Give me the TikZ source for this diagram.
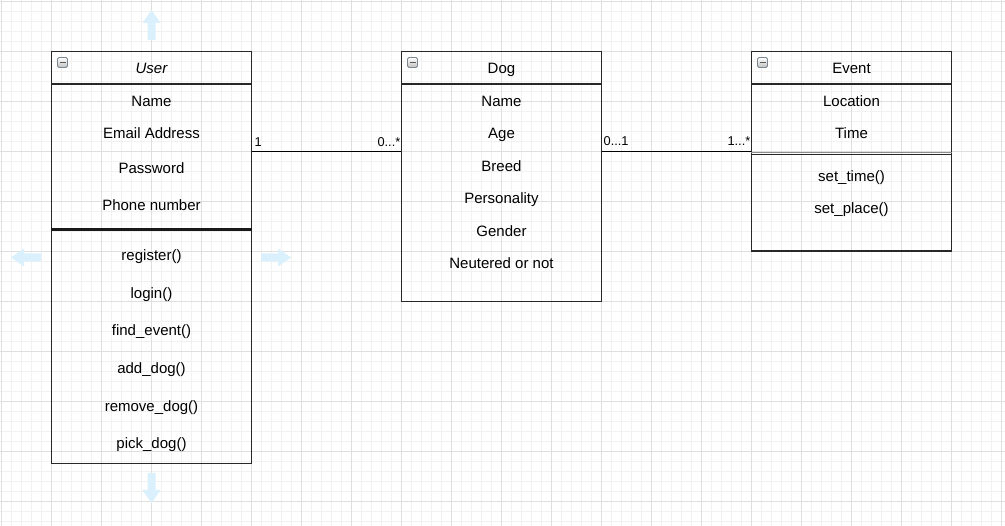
\documentclass[tikz,border=0pt]{standalone}
\usepackage{fontspec}
\setmainfont{Liberation Sans}
\definecolor{minorgrid}{RGB}{241,241,241}
\definecolor{majorgrid}{RGB}{223,223,223}
\definecolor{hintblue}{RGB}{218,240,252}
\definecolor{icongray}{RGB}{125,135,145}
\definecolor{boxline}{RGB}{40,40,40}
\tikzset{
  umlbox/.style={draw=boxline, line width=1.2pt, inner sep=0pt, minimum width=200pt},
  sepline/.style={draw=boxline, line width=1.1pt},
  thicksep/.style={draw=black!90, line width=2.2pt},
  conn/.style={draw=black, line width=1.2pt},
  txt/.style={anchor=base, inner sep=0pt, font=\fontsize{15}{18}\selectfont},
  lbl/.style={inner sep=0pt, font=\fontsize{12.8}{15}\selectfont},
  iconbox/.style={draw=icongray, line width=0.8pt, rounded corners=1.5pt, top color=white, bottom color=black!25, minimum size=10pt, inner sep=0pt,
    path picture={\draw[line width=1.6pt, draw=black!65] ([xshift=2pt]path picture bounding box.west) -- ([xshift=-2pt]path picture bounding box.east);}},
  hintarrow/.pic={\fill[hintblue] (0,-4) -- (17,-4) -- (17,-9) -- (30,0) -- (17,9) -- (17,4) -- (0,4) -- cycle;}
}
\begin{document}
\begin{tikzpicture}[x=1pt,y=-1pt]
\useasboundingbox (0,0) rectangle (1005,526);
\fill[white] (0,0) rectangle (1005,526);
% grid
\foreach \i in {0,...,100} \draw[minorgrid, line width=1pt] (1.5+10*\i,0) -- (1.5+10*\i,526);
\foreach \j in {0,...,52} \draw[minorgrid, line width=1pt] (0,1.5+10*\j) -- (1005,1.5+10*\j);
\foreach \i in {0,...,20} \draw[majorgrid, line width=1pt] (1.5+50*\i,0) -- (1.5+50*\i,526);
\foreach \j in {0,...,10} \draw[majorgrid, line width=1pt] (0,1.5+50*\j) -- (1005,1.5+50*\j);

% hint arrows around User
\pic[rotate=90] at (151.5,40) {hintarrow};
\pic[rotate=-90] at (151.5,473) {hintarrow};
\pic[rotate=180] at (41,257.5) {hintarrow};
\pic at (261,257.5) {hintarrow};

% boxes
\node[umlbox, minimum height=412pt] (user) at (151.5,257.5) {};
\node[umlbox, minimum height=250pt] (dog) at (501.5,176.5) {};
\node[umlbox, minimum height=199.5pt] (event) at (851.5,151.25) {};

% separators
\draw[sepline] (user.west |- 0,84) -- (user.east |- 0,84);
\draw[thicksep] (user.west |- 0,229.5) -- (user.east |- 0,229.5);
\draw[sepline] (dog.west |- 0,84) -- (dog.east |- 0,84);
\draw[sepline] (event.west |- 0,84) -- (event.east |- 0,84);
\draw[draw=black!45, line width=1.2pt] (event.west |- 0,152.9) -- (event.east |- 0,152.9);
\draw[sepline] (event.west |- 0,154.1) -- (event.east |- 0,154.1);

% icons
\node[iconbox] (uicon) at (62.5,62.5) {};
\node[iconbox] (dicon) at (412.5,62.5) {};
\node[iconbox] (eicon) at (762.5,62.5) {};

% User texts
\node[txt] (utitle) at (151.5,73.2) {\itshape User};
\node[txt] (u1) at (151.5,106.7) {Name};
\node[txt] (u2) at (151.5,138.4) {Email Address};
\node[txt] (u3) at (151.5,173.7) {Password};
\node[txt] (u4) at (151.5,211) {Phone number};
\node[txt] (u5) at (151.5,260.7) {register()};
\node[txt] (u6) at (151.5,299) {login()};
\node[txt] (u7) at (151.5,335.7) {find\_event()};
\node[txt] (u8) at (151.5,374) {add\_dog()};
\node[txt] (u9) at (151.5,411.2) {remove\_dog()};
\node[txt] (u10) at (151.5,448.4) {pick\_dog()};

% Dog texts
\node[txt] (dtitle) at (501.5,73.2) {Dog};
\node[txt] (d1) at (501.5,106.7) {Name};
\node[txt] (d2) at (501.5,138.7) {Age};
\node[txt] (d3) at (501.5,171.4) {Breed};
\node[txt] (d4) at (501.5,203.4) {Personality};
\node[txt] (d5) at (501.5,236.4) {Gender};
\node[txt] (d6) at (501.5,268.4) {Neutered or not};

% Event texts
\node[txt] (etitle) at (851.5,73.4) {Event};
\node[txt] (e1) at (851.5,106.7) {Location};
\node[txt] (e2) at (851.5,138.4) {Time};
\node[txt] (e3) at (851.5,181.7) {set\_time()};
\node[txt] (e4) at (851.5,213.4) {set\_place()};

% connectors
\coordinate (c1) at (251.5,151.5);
\coordinate (c2) at (401.5,151.5);
\coordinate (c3) at (601.5,151.5);
\coordinate (c4) at (751.5,151.5);
\draw[conn] (user.east |- c1) -- (dog.west |- c2);
\draw[conn] (dog.east |- c3) -- (event.west |- c4);

% multiplicities
\node[lbl, anchor=base west] (m1) at (254.5,146.3) {1};
\node[lbl, anchor=base east] (m2) at (400.5,146.3) {0...*};
\node[lbl, anchor=base west] (m3) at (603.5,146) {0...1};
\node[lbl, anchor=base east] (m4) at (750.5,146) {1...*};
\end{tikzpicture}
\end{document}
